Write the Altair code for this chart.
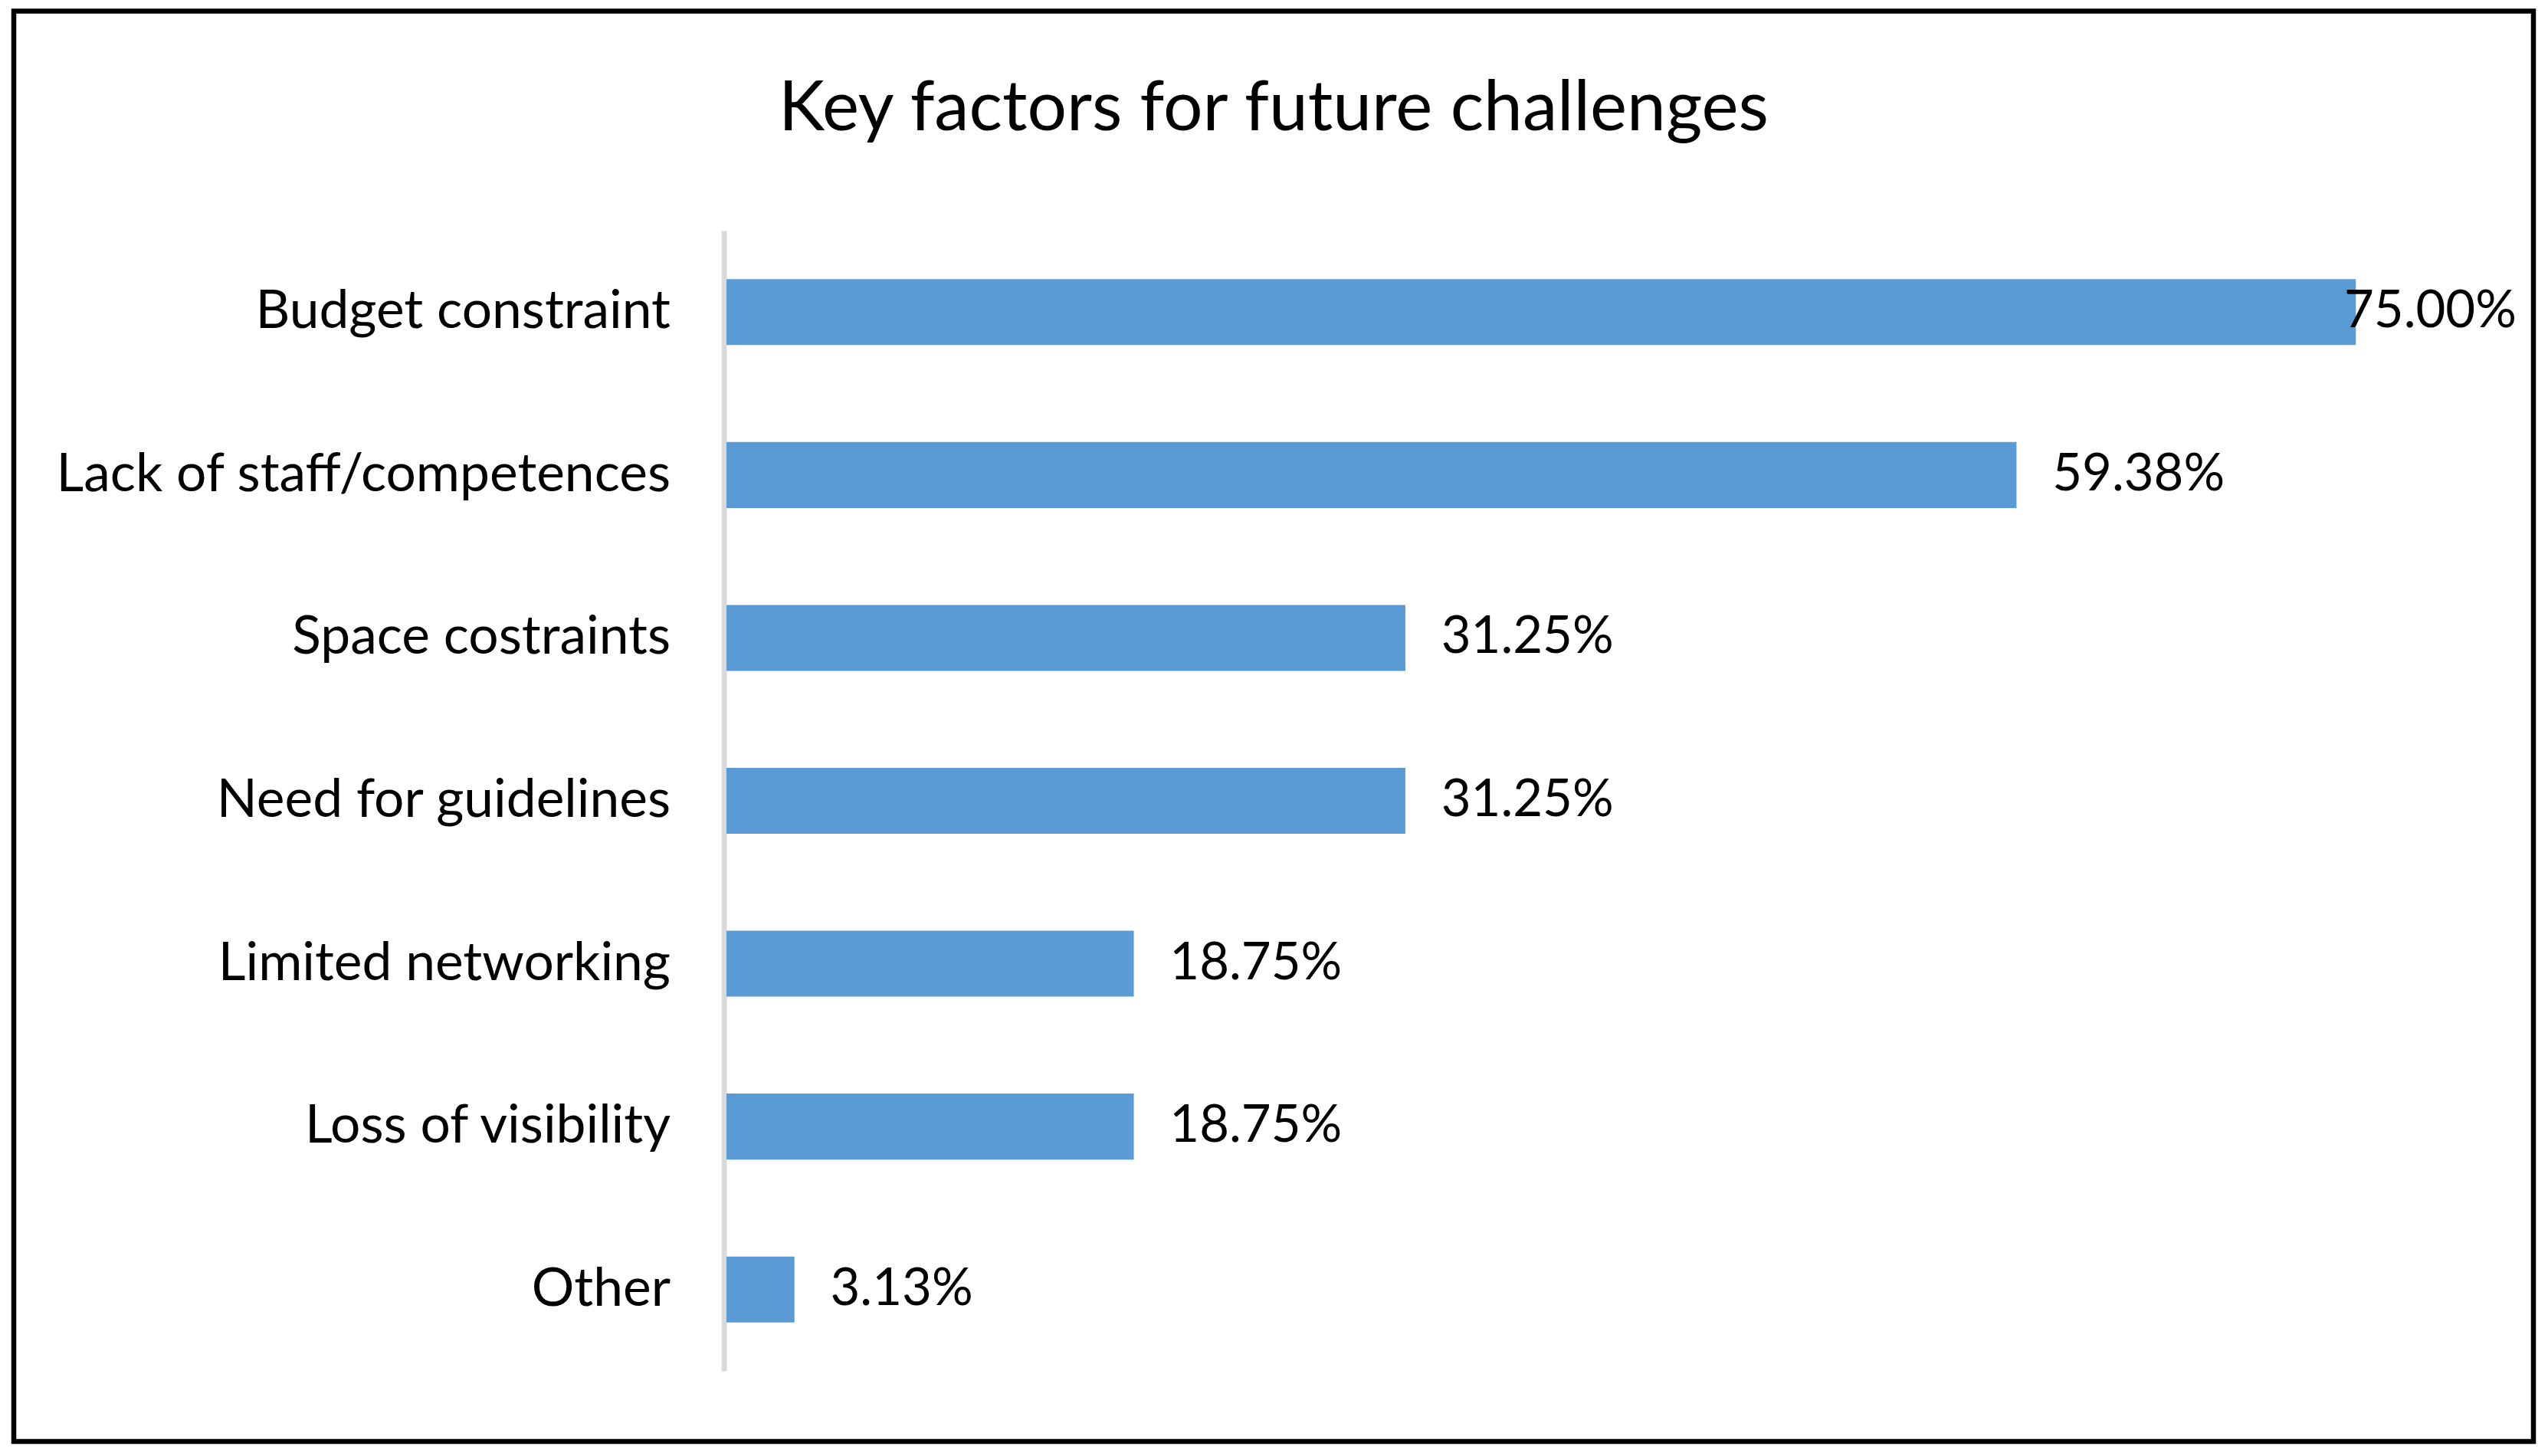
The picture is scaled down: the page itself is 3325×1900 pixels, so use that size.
import altair as alt
import pandas as pd

# ---- data ----
categories = [
    "Budget constraint",
    "Lack of staff/competences",
    "Space costraints",
    "Need for guidelines",
    "Limited networking",
    "Loss of visibility",
    "Other",
]
values = [75.00, 59.38, 31.25, 31.25, 18.75, 18.75, 3.13]
chart_title = "Key factors for future challenges"

df = pd.DataFrame({"category": categories, "value": values})

FONT = "Lato"
W = 2268
H = 1488

x_scale = alt.Scale(domain=[0, 80], nice=False, zero=True)
y_scale = alt.Scale(paddingInner=0.595, paddingOuter=0.2975)

y_axis = alt.Axis(
    domainColor="#D9D9D9",
    domainWidth=7,
    offset=3.5,
    ticks=False,
    tickSize=0,
    grid=False,
    labelPadding=70,
    labelFont=FONT,
    labelFontSize=69.5,
    labelColor="black",
    labelLimit=2000,
)

bars = alt.Chart(df).mark_bar(color="#5B9BD5").encode(
    x=alt.X("value:Q", scale=x_scale, axis=None),
    y=alt.Y("category:N", sort=categories, scale=y_scale, axis=y_axis, title=None),
)

labels = (
    alt.Chart(df)
    .transform_calculate(
        pos="min(datum.value + 1.65, 74.46)",
        label="format(datum.value, '.2f') + '%'",
    )
    .mark_text(align="left", baseline="middle", font=FONT, fontSize=67, color="black")
    .encode(
        x=alt.X("pos:Q", scale=x_scale, axis=None),
        y=alt.Y("category:N", sort=categories, scale=y_scale, axis=y_axis, title=None),
        text="label:N",
    )
)

title = (
    alt.Chart(pd.DataFrame({"t": [chart_title]}))
    .mark_text(align="center", baseline="alphabetic", font=FONT, fontSize=91, color="black")
    .encode(x=alt.value(714), y=alt.value(-131), text="t:N")
)

border = (
    alt.Chart(pd.DataFrame({"a": [0]}))
    .mark_rect(fillOpacity=0, stroke="black", strokeWidth=6.5)
    .encode(x=alt.value(-930), x2=alt.value(2358), y=alt.value(-286.5), y2=alt.value(1580))
)

chart = (
    alt.layer(bars, labels, title, border)
    .properties(
        width=W,
        height=H,
        autosize=alt.AutoSizeParams(type="none"),
        padding={"left": 940, "top": 293, "right": 101, "bottom": 103},
        background="white",
    )
    .configure_view(stroke=None)
)

chart.save("out.html", embed_options={"renderer": "svg", "actions": False})
